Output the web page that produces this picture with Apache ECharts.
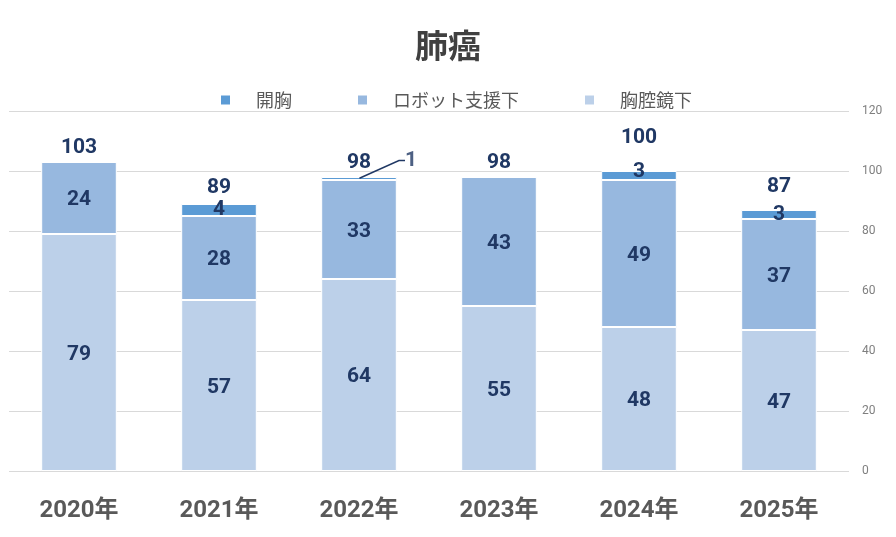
<!DOCTYPE html>
<html>
<head>
<meta charset="utf-8">
<script src="https://cdn.jsdelivr.net/npm/echarts@6/dist/echarts.min.js"></script>
<style>
  html, body { margin: 0; padding: 0; background: #fff; }
  #chart { width: 896px; height: 537px; }
</style>
</head>
<body>
<div id="chart"></div>
<script>
// 年ごとの手術件数
const years = ['2020年', '2021年', '2022年', '2023年', '2024年', '2025年']
const openChest = [0, 4, 1, 0, 3, 3]
const robotAssisted = [24, 28, 33, 43, 49, 37]
const thoracoscopic = [79, 57, 64, 55, 48, 47]
const totals = [103, 89, 98, 98, 100, 87]

const FONT = 'Roboto, "Noto Sans CJK JP", sans-serif'
const labelColor = '#203864'

const chart = echarts.init(document.getElementById('chart'))

const segLabel = {
  show: true,
  position: 'inside',
  offset: [0, 2],
  color: labelColor,
  fontSize: 21,
  fontWeight: 'bold',
  fontFamily: FONT,
  formatter: (p) => (p.value ? String(p.value) : ''),
}

// 合計ラベルは「3」と重ならないよう一部だけ上へ
const totalShift = [0, -2, 0, 0, -19, -9]

// 2022年の開胸「1」は引き出し線付きで横に出す
const calloutIndex = 2
const calloutY = thoracoscopic[calloutIndex] + robotAssisted[calloutIndex] + openChest[calloutIndex] / 2

chart.setOption({
  title: {
    text: '肺癌',
    left: 'center',
    top: 24,
    textStyle: { fontSize: 33, fontWeight: 'bold', color: '#404040', fontFamily: '"Noto Sans CJK JP"' },
  },
  legend: {
    data: ['開胸', 'ロボット支援下', '胸腔鏡下'],
    top: 86,
    left: 214,
    itemWidth: 11,
    itemHeight: 11,
    itemGap: 64,
    icon: 'rect',
    textStyle: { fontSize: 18, color: '#595959', fontFamily: '"Noto Sans CJK JP"', padding: [0, 0, 0, 20] },
  },
  grid: { left: 9, right: 47, top: 111, bottom: 66 },
  xAxis: {
    type: 'category',
    data: years,
    axisLine: { show: false },
    axisTick: { show: false },
    axisLabel: { fontSize: 24, fontWeight: 'bold', color: '#595959', margin: 28, fontFamily: FONT },
  },
  yAxis: {
    type: 'value',
    position: 'right',
    min: 0,
    max: 120,
    interval: 20,
    axisLine: { show: false },
    axisTick: { show: false },
    axisLabel: { fontSize: 12, color: '#7f7f7f', margin: 13, fontFamily: FONT },
    splitLine: { lineStyle: { color: '#d9d9d9' } },
  },
  series: [
    {
      name: '胸腔鏡下',
      type: 'bar',
      stack: 'all',
      barWidth: '54%',
      data: thoracoscopic,
      itemStyle: { color: '#BCD0E9', borderColor: '#fff', borderWidth: 1 },
      label: segLabel,
    },
    {
      name: 'ロボット支援下',
      type: 'bar',
      stack: 'all',
      data: robotAssisted,
      itemStyle: { color: '#97B8DF', borderColor: '#fff', borderWidth: 1 },
      label: segLabel,
    },
    {
      name: '開胸',
      type: 'bar',
      stack: 'all',
      data: openChest,
      itemStyle: { color: '#5B9BD5', borderColor: '#fff', borderWidth: 1 },
      label: {
        ...segLabel,
        formatter: (p) => (p.value && p.dataIndex !== calloutIndex ? String(p.value) : ''),
      },
      labelLayout: (p) => (p.dataIndex === 4 ? { dy: -4 } : {}),
    },
    {
      name: '合計',
      type: 'bar',
      stack: 'all',
      data: years.map(() => 0),
      itemStyle: { color: 'transparent' },
      label: {
        show: true,
        position: 'top',
        distance: 4,
        color: labelColor,
        fontSize: 21,
        fontWeight: 'bold',
        fontFamily: FONT,
        formatter: (p) => String(totals[p.dataIndex]),
      },
      labelLayout: (p) => ({ dy: totalShift[p.dataIndex] }),
    },
    {
      // 引き出し線用の見えない点
      name: 'callout',
      type: 'scatter',
      symbolSize: 1,
      itemStyle: { color: 'transparent' },
      silent: true,
      data: [[calloutIndex, calloutY]],
      label: {
        show: true,
        position: 'inside',
        color: labelColor,
        fontSize: 21,
        fontWeight: 'bold',
        fontFamily: FONT,
        formatter: () => String(openChest[calloutIndex]),
      },
      labelLayout: { dx: 52, dy: -18 },
      labelLine: { show: true, length2: 6, lineStyle: { color: labelColor, width: 1.5 } },
    },
  ],
})
</script>
</body>
</html>
